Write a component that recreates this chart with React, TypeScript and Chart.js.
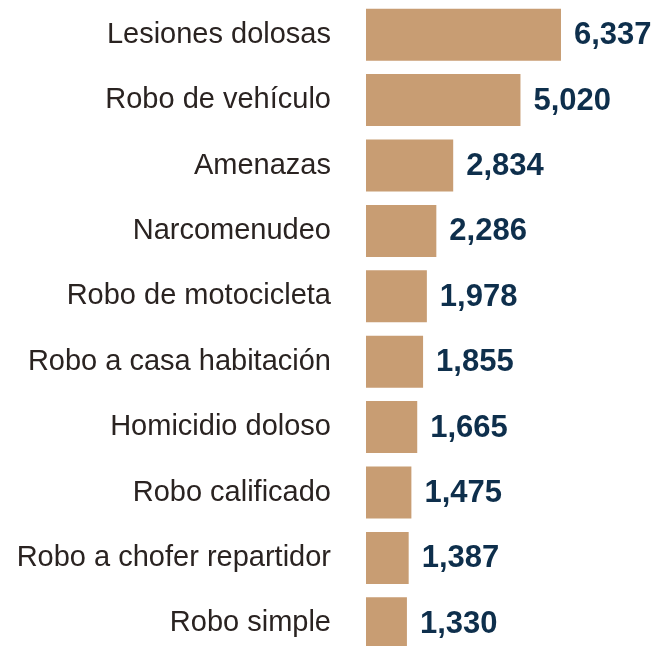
import React, { useEffect, useRef } from "react";
import { Chart, registerables } from "chart.js";

Chart.register(...registerables);

const categories = [
  "Lesiones dolosas",
  "Robo de vehículo",
  "Amenazas",
  "Narcomenudeo",
  "Robo de motocicleta",
  "Robo a casa habitación",
  "Homicidio doloso",
  "Robo calificado",
  "Robo a chofer repartidor",
  "Robo simple",
];

const values = [6337, 5020, 2834, 2286, 1978, 1855, 1665, 1475, 1387, 1330];

const BAR_COLOR = "#C89D73";
const VALUE_COLOR = "#0E2F4C";
const LABEL_COLOR = "#2A2321";

const valueLabels = {
  id: "valueLabels",
  afterDatasetsDraw(chart: any) {
    const { ctx } = chart;
    const meta = chart.getDatasetMeta(0);
    ctx.save();
    ctx.font = "bold 31px 'Liberation Sans', Arial, sans-serif";
    ctx.fillStyle = VALUE_COLOR;
    ctx.textAlign = "left";
    ctx.textBaseline = "middle";
    meta.data.forEach((bar: any, i: number) => {
      const v = chart.data.datasets[0].data[i] as number;
      ctx.fillText(v.toLocaleString("en-US"), bar.x + 13, bar.y + 1);
    });
    ctx.restore();
  },
};

export default function App() {
  const ref = useRef<HTMLCanvasElement | null>(null);

  useEffect(() => {
    if (!ref.current) return;
    const chart = new Chart(ref.current, {
      type: "bar",
      data: {
        labels: categories,
        datasets: [
          {
            data: values,
            backgroundColor: BAR_COLOR,
            borderWidth: 0,
            categoryPercentage: 1,
            barPercentage: 0.795,
          },
        ],
      },
      options: {
        indexAxis: "y",
        responsive: false,
        animation: false,
        devicePixelRatio: 1,
        layout: { padding: { top: 2, bottom: 4, left: 0, right: 0 } },
        plugins: {
          legend: { display: false },
          tooltip: { enabled: false },
        },
        scales: {
          x: {
            display: false,
            min: 0,
            max: 9620,
          },
          y: {
            grid: { display: false },
            border: { display: false },
            afterFit: (scale: any) => {
              scale.width = 366;
              scale.paddingTop = 0;
              scale.paddingBottom = 0;
            },
            ticks: {
              padding: 27,
              color: LABEL_COLOR,
              font: { family: "'Liberation Sans', Arial, sans-serif", size: 29 },
            },
          },
        },
      },
      plugins: [valueLabels],
    });
    return () => chart.destroy();
  }, []);

  return (
    <div style={{ position: "absolute", left: 0, top: 0, width: 662, height: 646, overflow: "hidden", background: "#fff" }}>
      <canvas ref={ref} width={662} height={660} style={{ display: "block" }} />
    </div>
  );
}
